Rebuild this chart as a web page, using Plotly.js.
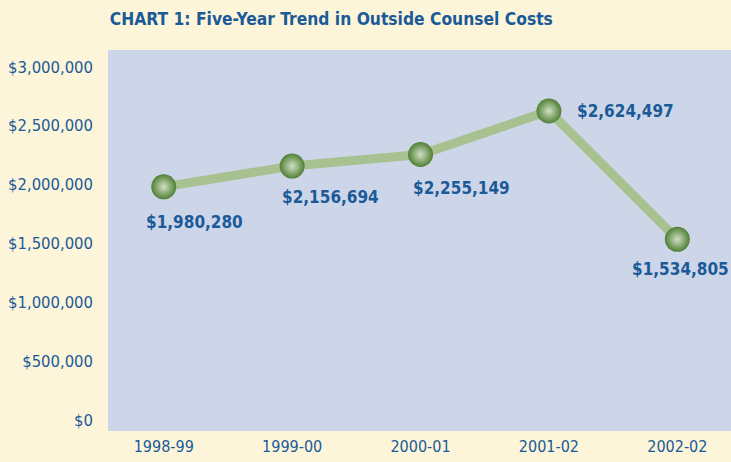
<!DOCTYPE html>
<html>
<head>
<meta charset="utf-8">
<script src="https://cdn.plot.ly/plotly-3.0.1.min.js"></script>
<style>html,body{margin:0;padding:0;background:#fdf5d9;}#chart{width:731px;height:462px;}</style>
</head>
<body>
<div id="chart"></div>
<script>
const years = ['1998-99', '1999-00', '2000-01', '2001-02', '2002-02'];
const costs = [1980280, 2156694, 2255149, 2624497, 1534805];
const yTickVals = [0, 500000, 1000000, 1500000, 2000000, 2500000, 3000000];
const yTickText = ['$0', '$500,000', '$1,000,000', '$1,500,000', '$2,000,000', '$2,500,000', '$3,000,000'];
const labelShiftX = [31, 38, 41, 77, 3];
const labelShiftY = [-35, -31, -34, 0, -30];

const FONT = '"DejaVu Sans Condensed", "Liberation Sans Narrow", "Liberation Sans", sans-serif';
const BLUE = '#1b5a98';

const fmt = v => '$' + v.toLocaleString('en-US');

const trace = {
  type: 'scatter',
  mode: 'lines+markers',
  x: years,
  y: costs,
  line: {color: '#a8c190', width: 9},
  marker: {
    size: 25,
    color: '#4f8035',
    gradient: {type: 'radial', color: '#d2dfc5'},
    line: {width: 0}
  },
  hoverinfo: 'skip'
};

const annotations = years.map((yr, i) => ({
  x: yr, y: costs[i], xref: 'x', yref: 'y',
  text: '<b>' + fmt(costs[i]) + '</b>',
  showarrow: false,
  xshift: labelShiftX[i], yshift: labelShiftY[i],
  font: {family: FONT, size: 17, color: BLUE}
}));

const layout = {
  width: 731, height: 462,
  margin: {l: 108, r: 0, t: 50, b: 31},
  paper_bgcolor: '#fdf5d9',
  plot_bgcolor: '#cdd6e8',
  showlegend: false,
  title: {
    text: '<b>CHART 1: Five-Year Trend in Outside Counsel Costs</b>',
    font: {family: FONT, size: 17.3, color: BLUE},
    xref: 'paper', x: 0.003, xanchor: 'left',
    yref: 'container', y: 0.958, yanchor: 'middle'
  },
  xaxis: {
    type: 'category',
    range: [-0.434, 4.418],
    showgrid: false, zeroline: false, showline: false,
    ticks: '',
    ticklabelstandoff: 4,
    tickfont: {family: FONT, size: 16, color: BLUE},
    fixedrange: true
  },
  yaxis: {
    range: [-93400, 3142500],
    tickvals: yTickVals,
    ticktext: yTickText,
    showgrid: false, zeroline: false, showline: false,
    ticks: '',
    ticklabelstandoff: 14,
    tickfont: {family: FONT, size: 16.5, color: BLUE},
    fixedrange: true
  },
  annotations: annotations
};

Plotly.newPlot('chart', [trace], layout, {displayModeBar: false, staticPlot: true});
</script>
</body>
</html>
